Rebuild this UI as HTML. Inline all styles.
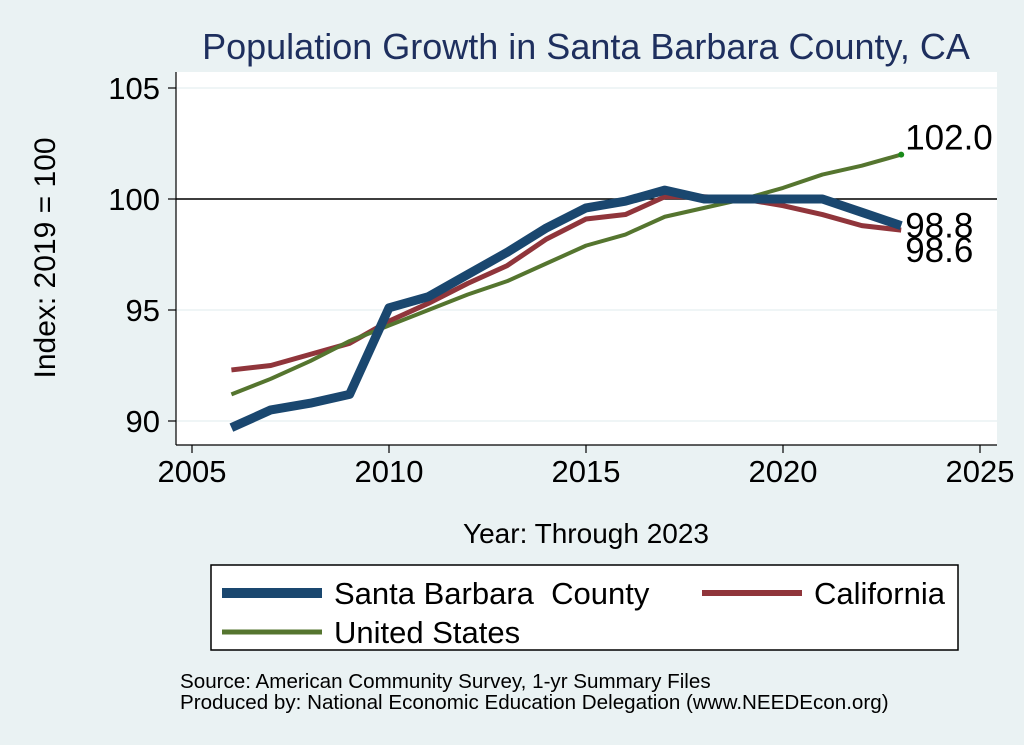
<!DOCTYPE html>
<html><head><meta charset="utf-8"><style>
body{margin:0;background:#eaf2f3;}
svg{display:block;font-family:"Liberation Sans",Arial,sans-serif;}
</style></head><body>
<svg width="1024" height="745" viewBox="0 0 1024 745">
<rect x="0" y="0" width="1024" height="745" fill="#eaf2f3"/>
<text x="586" y="59" font-size="36" fill="#1e2f5e" text-anchor="middle">Population Growth in Santa Barbara County, CA</text>
<rect x="176" y="72" width="821" height="373" fill="#fff"/>
<g id="grid"></g>
<g id="axes"></g>
<g id="series"></g>
<text x="586" y="543" font-size="28" text-anchor="middle">Year: Through 2023</text>
<text transform="translate(55,258) rotate(-90)" font-size="30" text-anchor="middle">Index: 2019 = 100</text>
<g>
<rect x="211" y="565" width="747" height="85" fill="#fff" stroke="#000" stroke-width="1.5"/>
<g><line x1="222" y1="593" x2="322" y2="593" stroke="#1a476f" stroke-width="10"/><text x="334" y="604" font-size="31" xml:space="preserve">Santa Barbara  County</text></g>
<g><line x1="702" y1="593" x2="802" y2="593" stroke="#90353b" stroke-width="6"/><text x="814" y="604" font-size="31">California</text></g>
<g><line x1="222" y1="632" x2="322" y2="632" stroke="#55752f" stroke-width="5"/><text x="334" y="643" font-size="31">United States</text></g>
</g>
<text x="180" y="688" font-size="20.6">Source: American Community Survey, 1-yr Summary Files</text>
<text x="180" y="709" font-size="20.6">Produced by: National Economic Education Delegation (www.NEEDEcon.org)</text>
</svg>
<script>
const years=[2006,2007,2008,2009,2010,2011,2012,2013,2014,2015,2016,2017,2018,2019,2020,2021,2022,2023];
const sbValues=[89.7,90.5,90.8,91.2,95.1,95.6,96.6,97.6,98.7,99.6,99.9,100.4,100.0,100.0,100.0,100.0,99.4,98.8];
const caValues=[92.3,92.5,93.0,93.5,94.5,95.3,96.2,97.0,98.2,99.1,99.3,100.1,100.1,100.0,99.7,99.3,98.8,98.6];
const usValues=[91.2,91.9,92.7,93.6,94.3,95.0,95.7,96.3,97.1,97.9,98.4,99.2,99.6,100.0,100.5,101.1,101.5,102.0];
const xTicks=[2005,2010,2015,2020,2025];
const yTicks=[90,95,100,105];
const NS="http://www.w3.org/2000/svg";
function xs(v){return 192+(v-2005)*(980-192)/20;}
function ys(v){return 421-(v-90)*(421-88)/15;}
function mk(t,a,p){const e=document.createElementNS(NS,t);for(const k in a)e.setAttribute(k,a[k]);p.appendChild(e);return e;}
const grid=document.getElementById('grid'),axes=document.getElementById('axes'),ser=document.getElementById('series');
yTicks.forEach(v=>{
 const g=mk('line',{x1:176,x2:997,y1:ys(v),y2:ys(v),stroke:'#eaf2f3','stroke-width':1.5},grid);
 
 
 mk('line',{x1:168,x2:176,y1:ys(v),y2:ys(v),stroke:'#000','stroke-width':1.2},axes);
 const t=mk('text',{x:160,y:ys(v)+11,'font-size':31,'text-anchor':'end'},axes);t.textContent=v;
 
 
});
xTicks.forEach(v=>{
 mk('line',{x1:xs(v),x2:xs(v),y1:445,y2:453,stroke:'#000','stroke-width':1.2},axes);
 const t=mk('text',{x:xs(v),y:482,'font-size':31,'text-anchor':'middle'},axes);t.textContent=v;
 
 
});
mk('line',{x1:176,x2:176,y1:72,y2:445,stroke:'#000','stroke-width':1.2},axes);
mk('line',{x1:176,x2:997,y1:445,y2:445,stroke:'#000','stroke-width':1.2},axes);
const ref=mk('line',{x1:176,x2:997,y1:ys(100),y2:ys(100),stroke:'#000','stroke-width':1.5},axes);


function line(vals,color,w,name){
 const p=mk('polyline',{points:years.map((y,i)=>xs(y)+','+ys(vals[i])).join(' '),fill:'none',stroke:color,'stroke-width':w,'stroke-linejoin':'round'},ser);
 
 
}
line(caValues,'#90353b',5,'california-line');
line(usValues,'#55752f',4,'united-states-line');
line(sbValues,'#1a476f',9,'santa-barbara-line');
const n=years.length-1;
mk('circle',{cx:xs(years[n]),cy:ys(usValues[n]),r:3,fill:'#1a8a1a'},ser);
function lab(v,dy,name){const t=mk('text',{x:xs(years[n])+4,y:ys(v)+dy,'font-size':35},ser);t.textContent=v.toFixed(1);
 
 }
lab(usValues[n],-5,'us-end-label');
lab(caValues[n],32,'ca-end-label');
lab(sbValues[n],12,'sb-end-label');
</script>
</body></html>
